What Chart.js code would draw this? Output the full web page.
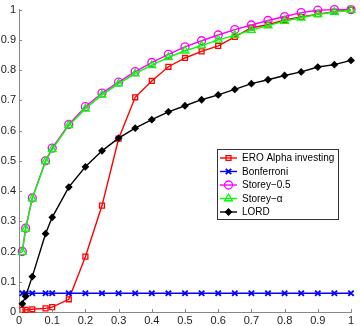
<!DOCTYPE html>
<html>
<head>
<meta charset="utf-8">
<script src="https://cdn.jsdelivr.net/npm/chart.js@4/dist/chart.umd.min.js"></script>
<style>
  html, body { margin: 0; padding: 0; background: #fff; }
  #wrap { width: 360px; height: 326px; }
</style>
</head>
<body>
<div id="wrap"><canvas id="chart"></canvas></div>
<script>
const xValues = [0.01, 0.02, 0.04, 0.08, 0.1, 0.15, 0.2, 0.25, 0.3, 0.35, 0.4, 0.45,
  0.5, 0.55, 0.6, 0.65, 0.7, 0.75, 0.8, 0.85, 0.9, 0.95, 1.0]

const eroAlpha = [0.007, 0.007, 0.009, 0.012, 0.016, 0.042, 0.183, 0.352, 0.573, 0.71, 0.764, 0.811,
  0.84, 0.862, 0.88, 0.91, 0.94, 0.95, 0.966, 0.976, 0.985, 0.993, 0.999]
const bonferroni = [0.062, 0.062, 0.062, 0.062, 0.062, 0.062, 0.062, 0.062, 0.062, 0.062, 0.062, 0.062,
  0.062, 0.062, 0.062, 0.062, 0.062, 0.062, 0.062, 0.062, 0.062, 0.062, 0.062]
const storeyHalf = [0.2, 0.277, 0.377, 0.5, 0.542, 0.62, 0.679, 0.724, 0.76, 0.795, 0.825, 0.852,
  0.877, 0.897, 0.916, 0.934, 0.949, 0.964, 0.977, 0.99, 0.998, 1.0, 1.0]
const storeyAlpha = [0.198, 0.275, 0.375, 0.498, 0.538, 0.617, 0.672, 0.718, 0.755, 0.788, 0.816, 0.842,
  0.864, 0.881, 0.9, 0.915, 0.932, 0.947, 0.962, 0.973, 0.984, 0.992, 0.998]
const lord = [0.027, 0.052, 0.117, 0.259, 0.313, 0.413, 0.48, 0.533, 0.575, 0.608, 0.636, 0.662,
  0.682, 0.702, 0.718, 0.736, 0.755, 0.768, 0.782, 0.794, 0.81, 0.818, 0.832]

const seriesNames = ['ERO Alpha investing', 'Bonferroni', 'Storey\u22120.5', 'Storey\u2212\u03b1', 'LORD']
const seriesValues = [eroAlpha, bonferroni, storeyHalf, storeyAlpha, lord]
const seriesColors = ['#ff0000', '#0000ff', '#ff00ff', '#00ff00', '#000000']
const seriesMarkers = ['rect', 'crossRot', 'circle', 'triangle', 'rectRot']
const markerSizes = [3.5, 3.8, 4, 4.5, 3]

const FONT = '"Liberation Sans", Arial, Helvetica, sans-serif'

function makeDataset(i) {
  const filled = seriesMarkers[i] === 'rectRot'
  return {
    label: seriesNames[i],
    data: xValues.map((x, j) => ({ x: x, y: seriesValues[i][j] })),
    borderColor: seriesColors[i],
    backgroundColor: filled ? seriesColors[i] : 'rgba(0,0,0,0)',
    pointBorderColor: seriesColors[i],
    pointBackgroundColor: filled ? seriesColors[i] : 'rgba(0,0,0,0)',
    pointStyle: seriesMarkers[i],
    pointRadius: markerSizes[i],
    pointBorderWidth: seriesMarkers[i] === 'crossRot' ? 1.8 : 1.3,
    borderWidth: 1.4,
    tension: 0,
    fill: false,
    clip: false,
    order: 4 - i
  }
}

const tickText = v => String(+Number(v).toFixed(2))

// small tick marks pointing into the plot, like the original
const innerTicks = {
  id: 'innerTicks',
  afterDraw(chart) {
    const ctx = chart.ctx
    const a = chart.chartArea
    const xs = chart.scales.x, ys = chart.scales.y
    ctx.save()
    ctx.strokeStyle = '#888'
    ctx.lineWidth = 1
    ctx.beginPath()
    xs.ticks.forEach(t => {
      const px = Math.round(xs.getPixelForValue(t.value)) + 0.5
      ctx.moveTo(px, a.bottom)
      ctx.lineTo(px, a.bottom - 3)
    })
    ys.ticks.forEach(t => {
      const py = Math.round(ys.getPixelForValue(t.value)) + 0.5
      ctx.moveTo(a.left, py)
      ctx.lineTo(a.left + 3, py)
    })
    ctx.stroke()
    ctx.restore()
  }
}

// legend box drawn inside the axes
const boxLegend = {
  id: 'boxLegend',
  afterDraw(chart) {
    const ctx = chart.ctx
    const left = 217, top = 149, w = 121, h = 70
    ctx.save()
    ctx.fillStyle = '#fff'
    ctx.fillRect(left, top, w, h)
    ctx.strokeStyle = '#333'
    ctx.lineWidth = 1
    ctx.strokeRect(left + 0.5, top + 0.5, w, h)
    ctx.font = '10px ' + FONT
    ctx.textBaseline = 'middle'
    chart.data.datasets.forEach((ds, i) => {
      const y = top + 9 + i * 13.5
      ctx.strokeStyle = ds.borderColor
      ctx.lineWidth = 1.4
      ctx.beginPath()
      ctx.moveTo(220, y)
      ctx.lineTo(237, y)
      ctx.stroke()
      ctx.fillStyle = ds.pointBackgroundColor
      ctx.strokeStyle = ds.pointBorderColor
      ctx.lineWidth = ds.pointBorderWidth
      Chart.helpers.drawPoint(ctx, {
        pointStyle: ds.pointStyle,
        radius: ds.pointRadius,
        borderWidth: ds.pointBorderWidth,
        rotation: 0
      }, 228.5, y)
      ctx.fillStyle = '#000'
      ctx.fillText(ds.label, 242, y + 0.5)
    })
    ctx.restore()
  }
}

new Chart(document.getElementById('chart'), {
  type: 'line',
  data: { datasets: seriesValues.map((_, i) => makeDataset(i)) },
  options: {
    responsive: true,
    maintainAspectRatio: false,
    animation: false,
    layout: { padding: { top: 6, right: 9, left: 0, bottom: 0 } },
    plugins: { legend: { display: false }, tooltip: { enabled: false } },
    scales: {
      x: {
        type: 'linear',
        min: 0, max: 1,
        afterFit(scale) { scale.height = 14 },
        border: { color: '#888', width: 1 },
        grid: { drawOnChartArea: false, drawTicks: false },
        ticks: { stepSize: 0.1, padding: 2, maxRotation: 0, color: '#222', callback: tickText, font: { size: 11, family: FONT } }
      },
      y: {
        type: 'linear',
        min: 0, max: 1,
        afterFit(scale) { scale.width = 19 },
        border: { color: '#888', width: 1 },
        grid: { drawOnChartArea: false, drawTicks: false },
        ticks: { stepSize: 0.1, padding: 3, color: '#222', callback: tickText, font: { size: 11, family: FONT } }
      }
    }
  },
  plugins: [innerTicks, boxLegend]
})
</script>
</body>
</html>
